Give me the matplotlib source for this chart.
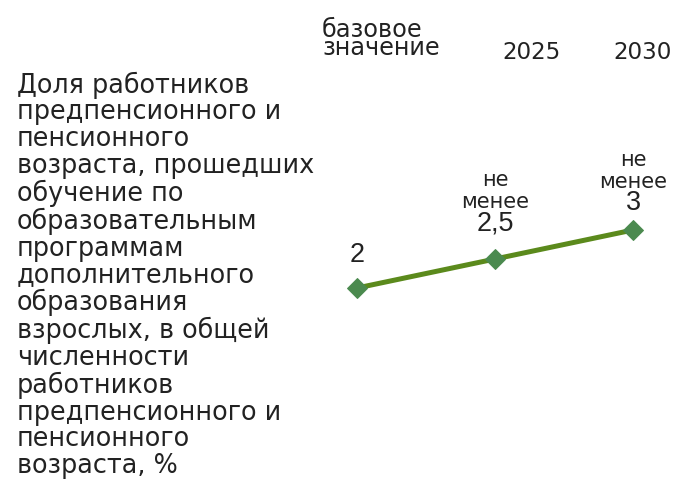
import matplotlib.pyplot as plt

# --- data -----------------------------------------------------------------
categories = ["базовое\nзначение", "2025", "2030"]
values = [2, 2.5, 3]
value_labels = ["2", "2,5", "3"]
prefixes = ["", "не\nменее", "не\nменее"]

indicator = ("Доля работников\nпредпенсионного и\nпенсионного\n"
             "возраста, прошедших\nобучение по\nобразовательным\n"
             "программам\nдополнительного\nобразования\n"
             "взрослых, в общей\nчисленности\nработников\n"
             "предпенсионного и\nпенсионного\nвозраста, %")

TEXT = "#222222"

# --- layout (dpi 72 so that points == pixels) --------------------------------
W, H = 675, 489
fig = plt.figure(figsize=(W / 72, H / 72), dpi=72)
fig.patch.set_facecolor("white")

# axes placed so the three points land where they sit in the original
ax = fig.add_axes([357 / W, 1 - 288 / H, (633 - 357) / W, (288 - 230) / H])
ax.set_xlim(0, len(values) - 1)
ax.set_ylim(min(values), max(values))
ax.axis("off")

ax.plot(range(len(values)), values, color="#5b8a1c", linewidth=5,
        marker="D", markersize=14, markerfacecolor="#4b8a4f",
        markeredgecolor="#4b8a4f", clip_on=False, zorder=3)

# label offsets above each point (px)
label_dy = [26, 29, 20]
for i, (v, lab, pre) in enumerate(zip(values, value_labels, prefixes)):
    ax.annotate(lab, (i, v), xytext=(0, label_dy[i]), textcoords="offset points",
                ha="center", va="baseline", fontsize=27,
                family="Liberation Sans", color=TEXT)
    if pre:
        ax.annotate(pre, (i, v), xytext=(0, label_dy[i] + 22),
                    textcoords="offset points", ha="center", va="baseline",
                    fontsize=21, linespacing=1.1, family="DejaVu Sans",
                    color=TEXT)

# column headers
fig.text(322 / W, 1 - 55 / H, categories[0], ha="left", va="baseline",
         fontsize=24, family="DejaVu Sans", linespacing=0.66, color=TEXT)
for x, cat in zip([532, 643], categories[1:]):
    fig.text(x / W, 1 - 59 / H, cat, ha="center", va="baseline", fontsize=23,
             family="DejaVu Sans", color=TEXT)

fig.text(17 / W, 1 - 473 / H, indicator, ha="left", va="baseline",
         fontsize=25.5, family="DejaVu Sans", linespacing=1.035, color=TEXT)

fig.savefig("out.png", dpi=72, facecolor="white")
